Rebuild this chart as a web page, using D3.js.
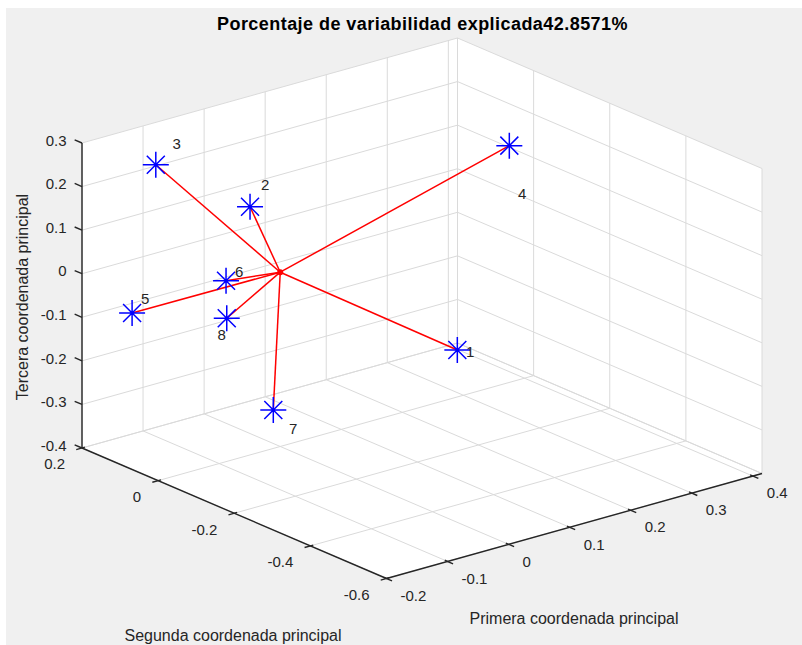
<!DOCTYPE html>
<html>
<head>
<meta charset="utf-8">
<script src="https://cdn.jsdelivr.net/npm/d3@7"></script>
<style>
    body { margin: 0; background: #ffffff; }
    text { font-family: "Liberation Sans", Arial, Helvetica, sans-serif; }
</style>
</head>
<body>
<svg id="chart" width="802" height="645"></svg>
<script>
"use strict";

// Axis limits and ticks
const xLimits = [-0.2, 0.415];
const yLimits = [-0.6, 0.2];
const zLimits = [-0.4, 0.3];
const xTicks = [-0.2, -0.1, 0, 0.1, 0.2, 0.3, 0.4];
const yTicks = [-0.6, -0.4, -0.2, 0, 0.2];
const zTicks = [-0.4, -0.3, -0.2, -0.1, 0, 0.1, 0.2, 0.3];

// Principal coordinates of the 8 points
const pointNames = ["1", "2", "3", "4", "5", "6", "7", "8"];
const primera = [0.0095, -0.0183, -0.129, 0.3939, -0.1803, -0.0576, 0.0011, -0.0876];
const segunda = [-0.45, 0.05, 0.12, 0.03, 0.1, 0.05, 0.02, 0];
const tercera = [-0.0138, 0.1386, 0.2522, 0.1249, -0.0604, -0.0158, -0.3243, -0.0714];

// Where each number label was placed (data space)
const labelPrimera = [0.0237, -0.0003, -0.1015, 0.4081, -0.1656, -0.0429, 0.0269, -0.1027];
const labelSegunda = [-0.45, 0.05, 0.12, 0.03, 0.1, 0.05, 0.02, 0];
const labelTercera = [-0.0232, 0.1814, 0.2906, 0.0099, -0.0324, -0.0009, -0.3764, -0.104];

const TITLE = "Porcentaje de variabilidad explicada42.8571%";
const X_LABEL = "Primera coordenada principal";
const Y_LABEL = "Segunda coordenada principal";
const Z_LABEL = "Tercera coordenada principal";

// Screen projection of the axes box (MATLAB default 3-D view)
const ORIGIN = [386.5, 578.5];       // (xmin, ymin, zmin)
const X_VEC = [375.5, -105];         // xmin -> xmax
const Y_VEC = [-304.5, -130.5];      // ymin -> ymax
const Z_VEC = [0, -305];             // zmin -> zmax

const GRID_COLOR = "#dadada";
const AXIS_COLOR = "#262626";
const TICK_FONT = 15;
const LABEL_FONT = 16;

const xScale = d3.scaleLinear().domain(xLimits).range([0, 1]);
const yScale = d3.scaleLinear().domain(yLimits).range([0, 1]);
const zScale = d3.scaleLinear().domain(zLimits).range([0, 1]);

function project(x, y, z) {
    let fx = xScale(x), fy = yScale(y), fz = zScale(z);
    return [
        ORIGIN[0] + fx * X_VEC[0] + fy * Y_VEC[0] + fz * Z_VEC[0],
        ORIGIN[1] + fx * X_VEC[1] + fy * Y_VEC[1] + fz * Z_VEC[1]
    ];
}

function unit(v) {
    let len = Math.hypot(v[0], v[1]);
    return [v[0] / len, v[1] / len];
}

function fmt(v) {
    return String(+v.toFixed(1));
}

const svg = d3.select("#chart");

// Figure background
svg.append("rect")
    .attr("x", 6).attr("y", 8)
    .attr("width", 796).attr("height", 637)
    .attr("fill", "#f0f0f0");

const [x0, x1] = xLimits, [y0, y1] = yLimits, [z0, z1] = zLimits;

// White area of the visible walls and floor
let hull = [
    project(x0, y1, z1), project(x1, y1, z1), project(x1, y0, z1),
    project(x1, y0, z0), project(x0, y0, z0), project(x0, y1, z0)
];
svg.append("polygon")
    .attr("points", hull.map(p => p.join(",")).join(" "))
    .attr("fill", "#ffffff");

// Grid lines: back-left wall (y = ymax), back-right wall (x = xmax), floor (z = zmin)
let gridSegments = [];
xTicks.forEach(x => {
    gridSegments.push([project(x, y1, z0), project(x, y1, z1)]);
    gridSegments.push([project(x, y0, z0), project(x, y1, z0)]);
});
yTicks.forEach(y => {
    gridSegments.push([project(x1, y, z0), project(x1, y, z1)]);
    gridSegments.push([project(x0, y, z0), project(x1, y, z0)]);
});
zTicks.forEach(z => {
    gridSegments.push([project(x0, y1, z), project(x1, y1, z)]);
    gridSegments.push([project(x1, y0, z), project(x1, y1, z)]);
});
// outer edges of the walls
gridSegments.push([project(x1, y1, z0), project(x1, y1, z1)]);
gridSegments.push([project(x1, y0, z0), project(x1, y1, z0)]);

svg.append("g")
    .selectAll("line")
    .data(gridSegments)
    .join("line")
    .attr("x1", d => d[0][0]).attr("y1", d => d[0][1])
    .attr("x2", d => d[1][0]).attr("y2", d => d[1][1])
    .attr("stroke", GRID_COLOR)
    .attr("stroke-width", 1);

// Axis lines
let axes = svg.append("g")
    .attr("stroke", AXIS_COLOR)
    .attr("stroke-width", 1.4)
    .attr("fill", "none");
axes.append("line").datum([project(x0, y0, z0), project(x1, y0, z0)]);
axes.append("line").datum([project(x0, y0, z0), project(x0, y1, z0)]);
axes.append("line").datum([project(x0, y1, z0), project(x0, y1, z1)]);
axes.selectAll("line")
    .attr("x1", d => d[0][0]).attr("y1", d => d[0][1])
    .attr("x2", d => d[1][0]).attr("y2", d => d[1][1]);

// Tick marks
const yDir = unit(Y_VEC), xDir = unit(X_VEC);
function tickLine(p, dir, back, out) {
    axes.append("line")
        .attr("x1", p[0] - dir[0] * back).attr("y1", p[1] - dir[1] * back)
        .attr("x2", p[0] + dir[0] * out).attr("y2", p[1] + dir[1] * out);
}
xTicks.forEach(x => tickLine(project(x, y0, z0), [-yDir[0], -yDir[1]], 3, 6));
yTicks.forEach(y => tickLine(project(x0, y, z0), [-xDir[0], -xDir[1]], 3, 6));
zTicks.forEach(z => tickLine(project(x0, y1, z), yDir, 0, 8));

// Tick labels
let tickLabels = svg.append("g")
    .attr("font-size", TICK_FONT)
    .attr("fill", AXIS_COLOR);
xTicks.forEach(x => {
    let p = project(x, y0, z0);
    tickLabels.append("text")
        .attr("x", p[0] + 14).attr("y", p[1] + 17)
        .attr("dy", "0.35em")
        .text(fmt(x));
});
yTicks.forEach(y => {
    let p = project(x0, y, z0);
    tickLabels.append("text")
        .attr("x", p[0] - 17).attr("y", p[1] + 16)
        .attr("dy", "0.35em")
        .attr("text-anchor", "end")
        .text(fmt(y));
});
zTicks.forEach(z => {
    let p = project(x0, y1, z);
    tickLabels.append("text")
        .attr("x", p[0] - 15.5).attr("y", p[1] - 2.5)
        .attr("dy", "0.35em")
        .attr("text-anchor", "end")
        .text(fmt(z));
});

// Axis titles
let axisLabels = svg.append("g")
    .attr("font-size", LABEL_FONT)
    .attr("fill", AXIS_COLOR)
    .attr("text-anchor", "middle");
axisLabels.append("text")
    .attr("x", 574).attr("y", 618).attr("dy", "0.35em")
    .text(X_LABEL);
axisLabels.append("text")
    .attr("x", 233).attr("y", 635).attr("dy", "0.35em")
    .text(Y_LABEL);
axisLabels.append("text")
    .attr("transform", "translate(22,297) rotate(-90)")
    .attr("dy", "0.35em")
    .text(Z_LABEL);

// Title
svg.append("text")
    .attr("x", 422.5).attr("y", 24)
    .attr("dy", "0.35em")
    .attr("text-anchor", "middle")
    .attr("font-size", 18)
    .attr("font-weight", "bold")
    .attr("letter-spacing", 0.45)
    .attr("fill", "#000000")
    .text(TITLE);

// Lines from the centroid to each point
const center = project(0, 0, 0);
const points = pointNames.map((name, i) => ({
    name: name,
    p: project(primera[i], segunda[i], tercera[i]),
    l: project(labelPrimera[i], labelSegunda[i], labelTercera[i])
}));

svg.append("g")
    .selectAll("line")
    .data(points)
    .join("line")
    .attr("x1", center[0]).attr("y1", center[1])
    .attr("x2", d => d.p[0]).attr("y2", d => d.p[1])
    .attr("stroke", "#ff0000")
    .attr("stroke-width", 1.5);

svg.append("circle")
    .attr("cx", center[0]).attr("cy", center[1])
    .attr("r", 3)
    .attr("fill", "#ff0000");

// Asterisk markers
const R = 13, D = 9;
function asterisk(p) {
    let [x, y] = p;
    return "M" + (x - R) + "," + y + "L" + (x + R) + "," + y +
        "M" + x + "," + (y - R) + "L" + x + "," + (y + R) +
        "M" + (x - D) + "," + (y - D) + "L" + (x + D) + "," + (y + D) +
        "M" + (x - D) + "," + (y + D) + "L" + (x + D) + "," + (y - D);
}
svg.append("g")
    .selectAll("path")
    .data(points)
    .join("path")
    .attr("d", d => asterisk(d.p))
    .attr("stroke", "#0000ff")
    .attr("stroke-width", 1.5)
    .attr("fill", "none");

// Point numbers
svg.append("g")
    .attr("font-size", TICK_FONT)
    .attr("fill", AXIS_COLOR)
    .selectAll("text")
    .data(points)
    .join("text")
    .attr("x", d => d.l[0]).attr("y", d => d.l[1])
    .attr("dy", "0.35em")
    .text(d => d.name);
</script>
</body>
</html>
